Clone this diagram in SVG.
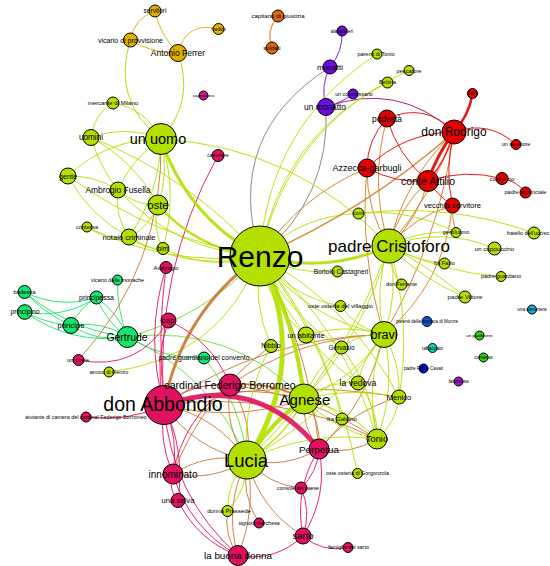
<svg xmlns="http://www.w3.org/2000/svg" width="550" height="566" viewBox="0 0 550 566">
<style>
.e{fill:none;stroke-width:1;stroke-opacity:.9}
.yg{stroke:#b3e000}.yr{stroke:#d27d1e}.yc{stroke:#c9782f}.yp{stroke:#8e7770}.rp{stroke:#a6076f}
.ygr{stroke:#65e136}.gr{stroke:#17e36d}.cr{stroke:#e0115f}.rd{stroke:#e30000}.gd{stroke:#e0b000}
.ygd{stroke:#c9c800}.or{stroke:#e0640a}.pu{stroke:#6a0ee0}
circle{stroke:#000;stroke-width:1}
.fyg{fill:#b3e000}.frd{fill:#e30000}.fcr{fill:#e0115f}.fgr{fill:#17e36d}.fpu{fill:#6a0ee0}
.for{fill:#e0640a}.fgd{fill:#e0b000}.fmg{fill:#cc1a86}.fbl{fill:#1452d2}.flb{fill:#1eaed8}
.fg2{fill:#33cc14}.fcy{fill:#16d2b2}.fdb{fill:#0a0ad6}.fp2{fill:#aa10cc}
text{font-family:"Liberation Sans",Arial,sans-serif;text-anchor:middle;fill:#000}
</style>
<rect width="550" height="566" fill="#fff"/>
<g id="edges">
<path class="e gd" d="M155 11Q134 18.2 130.5 40"/>
<path class="e gd" d="M155 11Q160.2 35.5 178 53"/>
<path class="e gd" d="M130.5 40Q152.3 53.6 178 53"/>
<path class="e gd" d="M218.5 29Q186.3 20.8 178 53"/>
<path class="e ygd" d="M130.5 40Q111.1 100.2 161 139"/>
<path class="e ygd" d="M161 139Q195.3 101.1 178 53"/>
<path class="e or" d="M278 16Q265.4 30.2 272 48"/>
<path class="e pu" d="M330 67Q343.2 51.4 342 31"/>
<path class="e pu" d="M330 67Q320 86.2 326 107"/>
<path class="e pu" d="M326 107Q340.8 103.2 353 94"/>
<path class="e rp" d="M454 132Q397.5 81.1 326 107"/>
<path class="e yp" d="M330 67Q223.2 134.9 260 256"/>
<path class="e yp" d="M260 256Q330.3 198 326 107"/>
<path class="e yg" d="M377 54Q268 125.8 260 256"/>
<path class="e yg" d="M409 70.5Q288.1 126 260 256"/>
<path class="e yg" d="M387.5 82.5Q280.4 137.4 260 256"/>
<path class="e yg" d="M389 246Q296.4 146.9 161 139"/>
<path class="e yg" d="M161 139Q126.3 124.3 91 137.5"/>
<path class="e yg" d="M161 139Q146 109 113 103"/>
<path class="e yg" d="M113 103Q93.4 114.8 91 137.5"/>
<path class="e yg" d="M91 137.5Q99.3 166.5 118 190"/>
<path class="e yg" d="M161 139Q107.1 138.9 68 176"/>
<path class="e yg" d="M118 190Q95.1 175.5 68 176"/>
<path class="e yg" d="M68 176Q89.4 215.7 129 237"/>
<path class="e yg" d="M68 176Q154.4 239 260 256"/>
<path class="e yg" d="M161 139Q131.9 158.1 118 190"/>
<path class="e yg" d="M158 205Q169.4 172.5 161 139"/>
<path class="e yg" d="M129 237Q159.7 192.8 161 139"/>
<path class="e yg" d="M163 248.5Q178.4 193.5 161 139"/>
<path class="e yg" d="M118 190Q135 205.5 158 205"/>
<path class="e yg" d="M118 190Q114.1 215.7 129 237"/>
<path class="e yg" d="M118 190Q175.8 251.4 260 256"/>
<path class="e yg" d="M129 237Q190.7 272.7 260 256"/>
<path class="e yg" d="M163 248.5Q210 271.7 260 256"/>
<path class="e yg" d="M129 237Q149.9 226.8 158 205"/>
<path class="e yg" d="M158 205Q151.8 227.8 163 248.5"/>
<path class="e yg" d="M129 237Q143.7 249.6 163 248.5"/>
<path class="e yg" d="M87 227Q169.2 267.5 260 256"/>
<path class="e yg" d="M87 227Q106 240.4 129 237"/>
<path class="e yg" d="M158 205Q134.6 161.2 91 137.5"/>
<path class="e yg" d="M260 256Q189.7 176.5 91 137.5"/>
<path class="e yg" d="M109 372Q219.3 359.3 260 256"/>
<path class="e ygr" d="M304 399Q231.3 323.9 127.5 337"/>
<path class="e ygr" d="M247 460Q211.9 374.6 127.5 337"/>
<path class="e ygr" d="M247 460Q240.8 402.6 204 358"/>
<path class="e ygr" d="M127.5 337Q205.9 316.4 260 256"/>
<path class="e gr" d="M24.5 292Q44.4 313.4 71 325.5"/>
<path class="e gr" d="M24.5 292Q69.3 330 127.5 337"/>
<path class="e gr" d="M24.7 312Q46.5 323.4 71 325.5"/>
<path class="e gr" d="M24.7 312Q63.5 319.1 96.5 297.5"/>
<path class="e gr" d="M24.7 312Q71.1 345.1 127.5 337"/>
<path class="e gr" d="M24.5 292Q59.4 309.2 96.5 297.5"/>
<path class="e gr" d="M96.5 297.5Q79.6 307.7 71 325.5"/>
<path class="e gr" d="M96.5 297.5Q106.1 321.9 127.5 337"/>
<path class="e gr" d="M127.5 337Q117.9 312.6 96.5 297.5"/>
<path class="e gr" d="M71 325.5Q97 342.6 127.5 337"/>
<path class="e gr" d="M127.5 337Q101.6 320 71 325.5"/>
<path class="e gr" d="M117.5 280Q116.8 309.5 127.5 337"/>
<path class="e gr" d="M127.5 337Q162.6 359 204 358"/>
<path class="e cr" d="M78.5 360Q137.3 371.8 168.5 320.5"/>
<path class="e yc" d="M78.5 360Q164 266 161 139"/>
<path class="e cr" d="M166 267.5Q144.4 336 164 405"/>
<path class="e cr" d="M166 267.5Q156.8 336.1 164 405"/>
<path class="e cr" d="M168.5 320.5Q153.6 362.1 164 405"/>
<path class="e cr" d="M218 155.5Q153.6 272.2 164 405"/>
<path class="e cr" d="M168.5 320.5Q212.2 340.5 230 385"/>
<path class="e cr" d="M86 417Q126.8 422.7 164 405"/>
<path class="e cr" d="M164 405Q158.2 440.9 173 474"/>
<path class="e cr" d="M164 405Q178.9 438.2 173 474"/>
<path class="e cr" d="M164 405Q185.3 450.7 178 500.5"/>
<path class="e cr" d="M164 405Q170.9 495.1 238 555.5"/>
<path class="e cr" d="M164 405Q193 381.8 230 385"/>
<path class="e cr" d="M230 385Q183.7 418.1 173 474"/>
<path class="e yc" d="M230 385Q223.5 425.9 247 460"/>
<path class="e yc" d="M230 385Q253.5 419.1 247 460"/>
<path class="e yc" d="M173 474Q212.8 481.8 247 460"/>
<path class="e yc" d="M173 474Q207.2 452.2 247 460"/>
<path class="e cr" d="M173 474Q167.6 488.8 178 500.5"/>
<path class="e cr" d="M173 474Q189.2 527.8 238 555.5"/>
<path class="e cr" d="M178 500.5Q197 540 238 555.5"/>
<path class="e yc" d="M247 460Q223.4 506 238 555.5"/>
<path class="e yc" d="M247 460Q256.8 509.1 238 555.5"/>
<path class="e cr" d="M238 555.5Q275.4 562 303 536"/>
<path class="e cr" d="M303 536Q322.6 553 348 547.5"/>
<path class="e cr" d="M303 536Q328.4 495.7 319 449"/>
<path class="e cr" d="M303 536Q293.6 489.3 319 449"/>
<path class="e cr" d="M303 536Q311.6 511.6 301 488"/>
<path class="e yc" d="M247 460Q259.8 509.2 303 536"/>
<path class="e yc" d="M247 460Q268.4 484.8 301 488"/>
<path class="e cr" d="M301 488Q317.8 472.1 319 449"/>
<path class="e yc" d="M247 460Q240.4 493.9 259 523"/>
<path class="e yg" d="M227.5 511Q247.5 489.4 247 460"/>
<path class="e yg" d="M227.5 511Q227.1 481.6 247 460"/>
<path class="e yc" d="M227.5 511Q223.9 535.4 238 555.5"/>
<path class="e yc" d="M304 399Q301.5 427 319 449"/>
<path class="e yc" d="M304 399Q321.5 421 319 449"/>
<path class="e yc" d="M247 460Q285.2 468.9 319 449"/>
<path class="e yc" d="M260 256Q308.8 346.6 319 449"/>
<path class="e yc" d="M319 449Q350 455.6 377 439"/>
<path class="e yc" d="M164 405Q194.5 449.1 247 460"/>
<path class="e yc" d="M164 405Q216.5 415.9 247 460"/>
<path class="e yc" d="M164 405Q234.9 423 304 399"/>
<path class="e yc" d="M164 405Q233.1 381 304 399"/>
<path class="e yc" d="M164 405Q275.6 390 377 439"/>
<path class="e yc" d="M164 405Q263.4 336.8 384 334.5"/>
<path class="e yc" d="M173 474Q202.8 395.3 271 346"/>
<path class="e yc" d="M384 334.5Q368.7 401.5 319 449"/>
<path class="e yc" d="M399 397Q351.2 411 319 449"/>
<path class="e yc" d="M399 397Q280.7 377.5 164 405"/>
<path class="e yc" d="M230 385Q310 394.4 377 439"/>
<path class="e yc" d="M230 385Q299.4 336.7 384 334.5"/>
<path class="e yc" d="M230 385Q269.1 380.9 304 399" style="stroke-width:2"/>
<path class="e yc" d="M260 256Q182.2 311.3 164 405" style="stroke-width:3"/>
<path class="e yg" d="M260 256Q306.3 320 384 334.5"/>
<path class="e yg" d="M260 256Q346 330 377 439"/>
<path class="e yg" d="M260 256Q287 314 341.5 347.5"/>
<path class="e yg" d="M260 256Q350.7 305.7 399 397"/>
<path class="e yg" d="M260 256Q290 334.2 358 383"/>
<path class="e yg" d="M260 256Q267.2 304.7 306 335"/>
<path class="e yg" d="M260 256Q296.5 275.4 337.5 271.5"/>
<path class="e yg" d="M260 256Q290.3 297.1 340.5 306"/>
<path class="e yg" d="M358.5 213.5Q300.8 215 260 256"/>
<path class="e yg" d="M260 256Q320.6 327.7 342 419"/>
<path class="e yg" d="M260 256Q334.9 353 357.5 473.5"/>
<path class="e yg" d="M260 256Q252 302.7 271 346"/>
<path class="e yr" d="M260 256Q366.9 209.5 454 132" style="stroke-width:1.5"/>
<path class="e yr" d="M260 256Q300.3 196 367 168"/>
<path class="e yr" d="M389 246Q418.3 219.4 428 181"/>
<path class="e yr" d="M389 246Q398.8 207.7 428 181"/>
<path class="e yr" d="M389 246Q404.4 179.3 454 132"/>
<path class="e yr" d="M389 246Q432.9 195.5 454 132"/>
<path class="e yr" d="M367 168Q366.3 210.3 389 246"/>
<path class="e yr" d="M367 168Q358.9 253 384 334.5"/>
<path class="e yr" d="M454 132Q439.3 240.3 384 334.5"/>
<path class="e yr" d="M452.5 205.5Q444.1 283.7 384 334.5"/>
<path class="e yr" d="M452.5 205.5Q414.7 216.2 389 246"/>
<path class="e yr" d="M387 118.5Q368.9 182.6 389 246"/>
<path class="e yr" d="M452.5 205.5Q451.6 219.4 456 232.5"/>
<path class="e rd" d="M454 132Q425.2 101.8 387 118.5"/>
<path class="e rd" d="M387 118.5Q367.1 139.3 367 168"/>
<path class="e rd" d="M387 118.5Q398.1 155.9 428 181"/>
<path class="e rd" d="M454 132Q403.3 132.6 367 168"/>
<path class="e rd" d="M367 168Q395.6 183.7 428 181"/>
<path class="e rd" d="M454 132Q446.9 159.6 428 181" style="stroke-width:1.2"/>
<path class="e rd" d="M516 144.5Q488.8 119.7 454 132"/>
<path class="e rd" d="M454 132Q444.4 168.6 452.5 205.5"/>
<path class="e rd" d="M502 178.5Q464.6 168.7 428 181"/>
<path class="e rd" d="M525.5 192.5Q516.6 180.8 502 178.5"/>
<path class="e rd" d="M428 181Q437.8 195.7 452.5 205.5"/>
<path class="e rd" d="M454 132Q437.1 154.4 428 181" style="stroke-width:3"/>
<path class="e rd" d="M454 132Q469 115.5 472.5 93.5" style="stroke-width:2.5"/>
<path class="e yg" d="M389 246Q420.5 229.2 456 232.5"/>
<path class="e yg" d="M389 246Q442.3 226.2 494.5 248.5"/>
<path class="e yg" d="M358.5 213.5Q448.6 202.2 534 233"/>
<path class="e yg" d="M358.5 213.5Q410.1 208.4 456 232.5"/>
<path class="e yg" d="M389 246Q442 272.5 501 276.5"/>
<path class="e yg" d="M389 246Q421.9 279.1 465 297"/>
<path class="e yg" d="M389 246Q430.1 266.9 465 297"/>
<path class="e yg" d="M389 246Q415 260.3 444.5 263.5"/>
<path class="e yg" d="M389 246Q387.6 267.8 401.5 284.5"/>
<path class="e yg" d="M384 334.5Q399.8 291 389 246"/>
<path class="e yg" d="M384 334.5Q373.2 289.5 389 246"/>
<path class="e yg" d="M399 397Q412.1 320.3 389 246"/>
<path class="e yg" d="M389 246Q343.7 370 247 460"/>
<path class="e yg" d="M389 246Q364.9 332.7 304 399"/>
<path class="e yg" d="M384 334.5Q364.8 385.7 377 439"/>
<path class="e yg" d="M384 334.5Q396.2 387.8 377 439"/>
<path class="e yg" d="M384 334.5Q400.9 363.5 399 397"/>
<path class="e yg" d="M384 334.5Q363.7 354.9 358 383"/>
<path class="e yg" d="M384 334.5Q360.2 332.5 341.5 347.5"/>
<path class="e yg" d="M384 334.5Q344.9 323.1 306 335"/>
<path class="e yg" d="M384 334.5Q353.7 378.8 304 399"/>
<path class="e yg" d="M384 334.5Q330.6 413.7 247 460"/>
<path class="e yg" d="M340.5 306Q356.6 329 384 334.5"/>
<path class="e yg" d="M377 439Q346.5 408.1 304 399"/>
<path class="e yg" d="M377 439Q334.5 430 304 399"/>
<path class="e yg" d="M377 439Q308.9 430 247 460"/>
<path class="e yg" d="M377 439Q373 387.9 341.5 347.5"/>
<path class="e yg" d="M377 439Q396.4 422.4 399 397"/>
<path class="e yg" d="M377 439Q378.7 407.2 358 383"/>
<path class="e yg" d="M399 397Q351.3 386.6 304 399"/>
<path class="e yg" d="M358 383Q327.8 380.2 304 399"/>
<path class="e yg" d="M341.5 347.5Q315 367.6 304 399"/>
<path class="e yg" d="M342 419Q327 401.4 304 399"/>
<path class="e yg" d="M271 346Q241.9 399.4 247 460"/>
<path class="e yg" d="M161 139Q187.1 217.3 260 256" style="stroke-width:3"/>
<path class="e yg" d="M158 205Q198.8 250.9 260 256" style="stroke-width:2.5"/>
<path class="e yg" d="M260 256Q326.3 274.2 389 246" style="stroke-width:3"/>
<path class="e yg" d="M304 399Q284.7 438.1 247 460" style="stroke-width:1.5"/>
<path class="e yg" d="M304 399Q269.4 423.8 247 460" style="stroke-width:4"/>
<path class="e yg" d="M304 399Q296.3 323.1 260 256" style="stroke-width:4"/>
<path class="e yg" d="M247 460Q310.6 361.6 260 256" style="stroke-width:5"/>
<path class="e cr" d="M164 405Q256.9 372.8 319 449" style="stroke-width:5"/>
</g>
<g id="nodes">
<g id="n-renzo"><circle class="fyg" cx="260" cy="256" r="30"/><text x="260" y="266.5" font-size="30">Renzo</text></g>
<g id="n-don-abbondio"><circle class="fcr" cx="164" cy="405" r="19.5"/><text x="163" y="411" font-size="19.5">don Abbondio</text></g>
<g id="n-lucia"><circle class="fyg" cx="247" cy="460" r="19"/><text x="246" y="466.5" font-size="18.5">Lucia</text></g>
<g id="n-padre-cristoforo"><circle class="fyg" cx="389" cy="246" r="17"/><text x="389" y="252" font-size="17">padre Cristoforo</text></g>
<g id="n-un-uomo"><circle class="fyg" cx="161" cy="139" r="15.5"/><text x="158" y="144" font-size="14.5">un uomo</text></g>
<g id="n-agnese"><circle class="fyg" cx="304" cy="399" r="15"/><text x="305" y="404.5" font-size="15">Agnese</text></g>
<g id="n-bravi"><circle class="fyg" cx="384" cy="334.5" r="13"/><text x="384" y="339" font-size="12.5">bravi</text></g>
<g id="n-don-rodrigo"><circle class="frd" cx="454" cy="132" r="12"/><text x="454" y="136.3" font-size="12">don Rodrigo</text></g>
<g id="n-cardinal"><circle class="fcr" cx="230" cy="385" r="11"/><text x="230" y="388.7" font-size="10.6">cardinal Federigo Borromeo</text></g>
<g id="n-gertrude"><circle class="fgr" cx="127.5" cy="337" r="10.5"/><text x="127" y="340.7" font-size="10.4">Gertrude</text></g>
<g id="n-conte-attilio"><circle class="frd" cx="428" cy="181" r="10.5"/><text x="428" y="184.7" font-size="10.6">conte Attilio</text></g>
<g id="n-innominato"><circle class="fcr" cx="173" cy="474" r="10"/><text x="173" y="477.5" font-size="10">innominato</text></g>
<g id="n-perpetua"><circle class="fcr" cx="319" cy="449" r="10"/><text x="319" y="452.5" font-size="9.9">Perpetua</text></g>
<g id="n-tonio"><circle class="fyg" cx="377" cy="439" r="10"/><text x="377" y="442.3" font-size="9.3">Tonio</text></g>
<g id="n-oste"><circle class="fyg" cx="158" cy="205" r="10"/><text x="158" y="208.8" font-size="11">oste</text></g>
<g id="n-la-buona-donna"><circle class="fcr" cx="238" cy="555.5" r="10"/><text x="238" y="559" font-size="9.9">la buona donna</text></g>
<g id="n-azzecca"><circle class="frd" cx="367" cy="168" r="9"/><text x="367" y="171.2" font-size="9">Azzecca-garbugli</text></g>
<g id="n-sarto"><circle class="fcr" cx="303" cy="536" r="8"/><text x="303" y="539.3" font-size="9.5">sarto</text></g>
<g id="n-antonio-ferrer"><circle class="fgd" cx="178" cy="53" r="8.5"/><text x="178" y="56" font-size="8.5">Antonio Ferrer</text></g>
<g id="n-un-monatto"><circle class="fpu" cx="326" cy="107" r="8.5"/><text x="325" y="110" font-size="8.4">un monatto</text></g>
<g id="n-podesta"><circle class="frd" cx="387" cy="118.5" r="8.5"/><text x="387" y="121.5" font-size="8.4">podestà</text></g>
<g id="n-ambrogio-fusella"><circle class="fyg" cx="118" cy="190" r="8"/><text x="118" y="193" font-size="8.4">Ambrogio Fusella</text></g>
<g id="n-notaio"><circle class="fyg" cx="129" cy="237" r="8"/><text x="129" y="239.7" font-size="7.6">notaio criminale</text></g>
<g id="n-uomini"><circle class="fyg" cx="91" cy="137.5" r="8"/><text x="91" y="140.4" font-size="8.2">uomini</text></g>
<g id="n-gente"><circle class="fyg" cx="68" cy="176" r="8"/><text x="68" y="178.5" font-size="7.2">gente</text></g>
<g id="n-un-abitante"><circle class="fyg" cx="306" cy="335" r="8"/><text x="306" y="337.6" font-size="7.5">un abitante</text></g>
<g id="n-principe"><circle class="fgr" cx="71" cy="325.5" r="8"/><text x="71" y="328.2" font-size="7.7">principe</text></g>
<g id="n-vecchio-servitore"><circle class="frd" cx="452.5" cy="205.5" r="7.5"/><text x="452.5" y="208.2" font-size="7.6">vecchio servitore</text></g>
<g id="n-cap"><circle class="fcr" cx="168.5" cy="320.5" r="7.5"/><text x="168" y="323.3" font-size="8">cap</text></g>
<g id="n-principino"><circle class="fgr" cx="24.7" cy="312" r="7.3"/><text x="25" y="314.4" font-size="6.8">principino</text></g>
<g id="n-monatti"><circle class="fpu" cx="330" cy="67" r="7"/><text x="330" y="69.8" font-size="7.9">monatti</text></g>
<g id="n-vicario-provvisione"><circle class="fgd" cx="130.5" cy="40" r="7"/><text x="130.5" y="42.5" font-size="7">vicario di provvisione</text></g>
<g id="n-menico"><circle class="fyg" cx="399" cy="397" r="7"/><text x="399" y="399.7" font-size="7.7">Menico</text></g>
<g id="n-la-vedova"><circle class="fyg" cx="358" cy="383" r="7"/><text x="358" y="386" font-size="8.6">la vedova</text></g>
<g id="n-una-selva"><circle class="fcr" cx="178" cy="500.5" r="7"/><text x="178" y="503.2" font-size="7.7">una selva</text></g>
<g id="n-principessa"><circle class="fgr" cx="96.5" cy="297.5" r="6.5"/><text x="96.5" y="300" font-size="6.9">principessa</text></g>
<g id="n-badessa"><circle class="fgr" cx="24.5" cy="292" r="6.5"/><text x="24.5" y="294" font-size="5.8">badessa</text></g>
<g id="n-nibbio"><circle class="fyg" cx="271" cy="346" r="6.5"/><text x="271" y="348.4" font-size="6.8">Nibbio</text></g>
<g id="n-gervasio"><circle class="fyg" cx="341.5" cy="347.5" r="6.5"/><text x="341.5" y="349.8" font-size="6.5">Gervasio</text></g>
<g id="n-un-cappuccino"><circle class="fyg" cx="494.5" cy="248.5" r="6.5"/><text x="494.5" y="250.6" font-size="6.1">un cappuccino</text></g>
<g id="n-capitano"><circle class="for" cx="278" cy="16" r="6"/><text x="278" y="18.1" font-size="6.1">capitano di giustizia</text></g>
<g id="n-sbirri"><circle class="for" cx="272" cy="48" r="6"/><text x="272" y="50.1" font-size="6">soldati</text></g>
<g id="n-servitori"><circle class="fgd" cx="155" cy="11" r="6"/><text x="155" y="13.3" font-size="6.5">servitori</text></g>
<g id="n-mercante"><circle class="fyg" cx="113" cy="103" r="6"/><text x="113" y="105.1" font-size="6">mercante di Milano</text></g>
<g id="n-birri"><circle class="fyg" cx="163" cy="248.5" r="6"/><text x="163" y="250.8" font-size="6.6">birri</text></g>
<g id="n-ambrogio"><circle class="fcr" cx="166" cy="267.5" r="6"/><text x="166" y="269.5" font-size="5.8">Ambrogio</text></g>
<g id="n-padre-guardiano-convento"><circle class="fgr" cx="204" cy="358" r="6"/><text x="204" y="360.4" font-size="6.9">padre guardiano del convento</text></g>
<g id="n-fra-galdino"><circle class="fyg" cx="342" cy="419" r="6"/><text x="342" y="421.1" font-size="6.1">fra Galdino</text></g>
<g id="n-conte-zio"><circle class="frd" cx="502" cy="178.5" r="6"/><text x="502" y="180.7" font-size="6.2">conte zio</text></g>
<g id="n-fratello"><circle class="fyg" cx="534" cy="233" r="6"/><text x="528" y="235" font-size="5.4">fratello dell'ucciso</text></g>
<g id="n-padre-vittore"><circle class="fyg" cx="465" cy="297" r="6"/><text x="465" y="299.1" font-size="6.1">padre Vittore</text></g>
<g id="n-console"><circle class="fcr" cx="301" cy="488" r="6"/><text x="298" y="489.8" font-size="5.2">console del paese</text></g>
<g id="n-cameriere"><circle class="fcr" cx="218" cy="155.5" r="6"/><text x="218" y="157.2" font-size="4.8">cameriere</text></g>
<g id="n-oste-villaggio"><circle class="fyg" cx="340.5" cy="306" r="5.5"/><text x="340.5" y="308.1" font-size="6.1">oste osteria del villaggio</text></g>
<g id="n-medico"><circle class="fgd" cx="218.5" cy="29" r="5.5"/><text x="218.5" y="30.5" font-size="4.5">medico</text></g>
<g id="n-padre-provinciale"><circle class="frd" cx="525.5" cy="192.5" r="5.5"/><text x="525.5" y="194.4" font-size="5.5">padre provinciale</text></g>
<g id="n-fra-fazio"><circle class="fyg" cx="444.5" cy="263.5" r="5.5"/><text x="444.5" y="265.4" font-size="5.4">fra Fazio</text></g>
<g id="n-don-ferrante"><circle class="fyg" cx="401.5" cy="284.5" r="5.5"/><text x="401.5" y="286.4" font-size="5.4">don Ferrante</text></g>
<g id="n-conti"><circle class="fyg" cx="358.5" cy="213.5" r="5.5"/><text x="358.5" y="215.3" font-size="5">conti</text></g>
<g id="n-bortolo"><circle class="fyg" cx="337.5" cy="271.5" r="5.5"/><text x="341" y="273.8" font-size="6.6">Bortolo Castagneri</text></g>
<g id="n-un-prete"><circle class="fcr" cx="78.5" cy="360" r="5.5"/><text x="78" y="362.1" font-size="6">un prete</text></g>
<g id="n-donna-prassede"><circle class="fyg" cx="227.5" cy="511" r="5.5"/><text x="229" y="513.1" font-size="6">donna Prassede</text></g>
<g id="n-bettina"><circle class="fyg" cx="387.5" cy="82.5" r="5.5"/><text x="387.5" y="84.4" font-size="5.5">Bettina</text></g>
<g id="n-un-commissario"><circle class="fpu" cx="353" cy="94" r="5"/><text x="354" y="95.9" font-size="5.4">un commissario</text></g>
<g id="n-alabardi"><circle class="fpu" cx="342" cy="31" r="5"/><text x="342" y="32.7" font-size="4.8">alabardieri</text></g>
<g id="n-griso"><circle class="frd" cx="472.5" cy="93.5" r="5"/><text x="472.5" y="95.1" font-size="4.6">Griso</text></g>
<g id="n-un-servitore"><circle class="frd" cx="516" cy="144.5" r="5"/><text x="516" y="146.4" font-size="5.5">un servitore</text></g>
<g id="n-gentiluomo"><circle class="fyg" cx="456" cy="232.5" r="5"/><text x="456" y="234.4" font-size="5.4">gentiluomo</text></g>
<g id="n-padre-guardiano"><circle class="fyg" cx="501" cy="276.5" r="5"/><text x="501" y="278.4" font-size="5.5">padre guardiano</text></g>
<g id="n-vicario-monache"><circle class="fgr" cx="117.5" cy="280" r="5"/><text x="117.5" y="281.9" font-size="5.5">vicario delle monache</text></g>
<g id="n-amico-renzo"><circle class="fyg" cx="109" cy="372" r="5"/><text x="109" y="374" font-size="5.6">amico di Renzo</text></g>
<g id="n-cottessia"><circle class="fyg" cx="87" cy="227" r="5"/><text x="87" y="229" font-size="5.5">contessa</text></g>
<g id="n-aiutante"><circle class="fcr" cx="86" cy="417" r="5"/><text x="86" y="419" font-size="5.4">aiutante di camera del cardinal Federigo Borromeo</text></g>
<g id="n-signora-marchesa"><circle class="fcr" cx="259" cy="523" r="5"/><text x="259" y="524.8" font-size="5.2">signora marchesa</text></g>
<g id="n-oste-gorgonzola"><circle class="fyg" cx="357.5" cy="473.5" r="5"/><text x="357.5" y="475.4" font-size="5.4">oste osteria di Gorgonzola</text></g>
<g id="n-famiglia-sarto"><circle class="fcr" cx="348" cy="547.5" r="5"/><text x="348.5" y="549.4" font-size="5.4">famiglia del sarto</text></g>
<g id="n-parenti-tonio"><circle class="fyg" cx="377" cy="54" r="5"/><text x="376" y="55.9" font-size="5.5">parenti di Tonio</text></g>
<g id="n-pescatore"><circle class="fyg" cx="409" cy="70.5" r="5"/><text x="409" y="72.5" font-size="5.7">pescatore</text></g>
<g id="n-parenti-monaca"><circle class="fbl" cx="427" cy="321.5" r="5"/><text x="427" y="323.1" font-size="4.5">parenti della monaca di Monza</text></g>
<g id="n-saccaio"><circle class="fmg" cx="203.5" cy="95.5" r="4.5"/><text x="203.5" y="97" font-size="4.3">sagrestano</text></g>
<g id="n-una-cameriera"><circle class="flb" cx="532" cy="309.5" r="4.5"/><text x="532" y="311.1" font-size="4.6">una cameriera</text></g>
<g id="n-un-giardiniere"><circle class="fg2" cx="479.5" cy="335.5" r="4.5"/><text x="479.5" y="337" font-size="4.4">un giardiniere</text></g>
<g id="n-tabaccaio"><circle class="fcy" cx="432.5" cy="348" r="4.5"/><text x="432.5" y="349.7" font-size="4.9">tabaccaio</text></g>
<g id="n-conversa"><circle class="fg2" cx="483.5" cy="357.5" r="4.5"/><text x="483.5" y="359.1" font-size="4.5">conversa</text></g>
<g id="n-padre-felice"><circle class="fdb" cx="423.5" cy="368.5" r="4.5"/><text x="423.5" y="370.1" font-size="4.5">padre Felice Casati</text></g>
<g id="n-fattoressa"><circle class="fp2" cx="458.5" cy="381.5" r="4.5"/><text x="458.5" y="383.1" font-size="4.6">fattoressa</text></g>
</g>
</svg>
